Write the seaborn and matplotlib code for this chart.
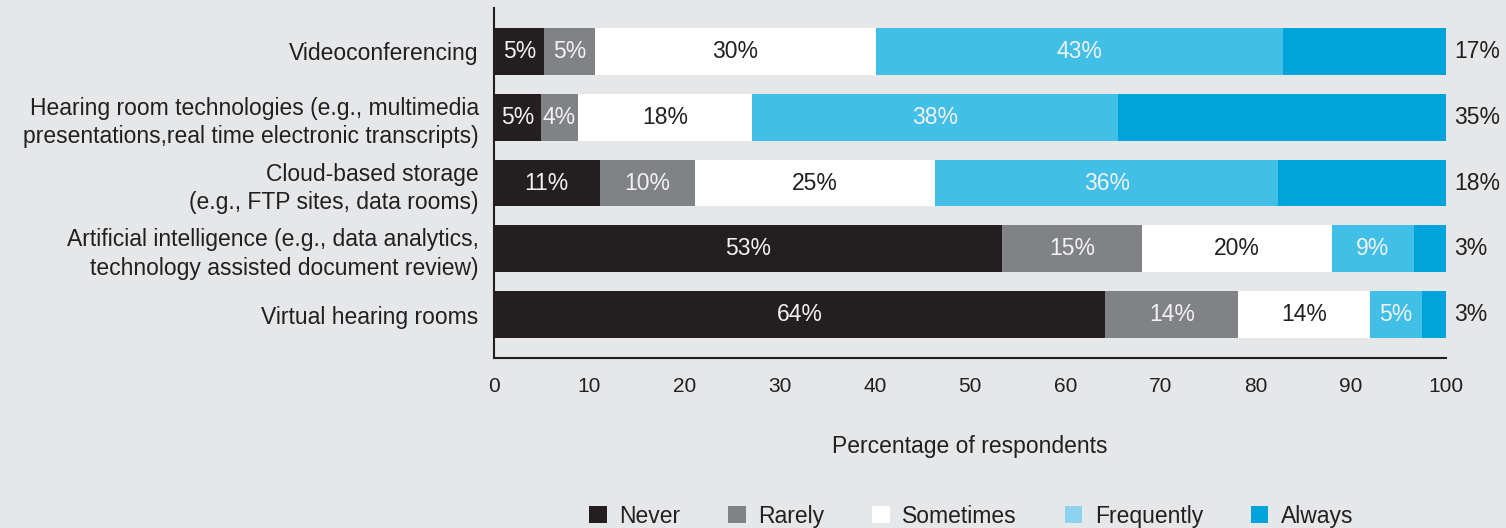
import matplotlib
matplotlib.use("Agg")
import matplotlib.pyplot as plt
import seaborn as sns
import pandas as pd
import numpy as np
from matplotlib.patches import Patch

categories = [
    "Videoconferencing",
    "Hearing room technologies (e.g., multimedia\npresentations,real time electronic transcripts)",
    "Cloud-based storage\n(e.g., FTP sites, data rooms)",
    "Artificial intelligence (e.g., data analytics,\ntechnology assisted document review)",
    "Virtual hearing rooms",
]
series = ["Never", "Rarely", "Sometimes", "Frequently", "Always"]
never = [5.3, 4.9, 11.1, 53.4, 64.2]
rarely = [5.3, 3.9, 10.0, 14.7, 14.0]
sometimes = [29.5, 18.3, 25.2, 19.9, 13.8]
frequently = [42.8, 38.4, 36.1, 8.6, 5.5]
always = [17.1, 34.5, 17.6, 3.4, 2.5]
labels_never = ["5%", "5%", "11%", "53%", "64%"]
labels_rarely = ["5%", "4%", "10%", "15%", "14%"]
labels_sometimes = ["30%", "18%", "25%", "20%", "14%"]
labels_frequently = ["43%", "38%", "36%", "9%", "5%"]
labels_always = ["17%", "35%", "18%", "3%", "3%"]
xticks = [0, 10, 20, 30, 40, 50, 60, 70, 80, 90, 100]

colors = ["#231f20", "#808285", "#ffffff", "#41bfe6", "#00a3da"]
legend_colors = ["#231f20", "#808285", "#ffffff", "#8cd3f0", "#00a3da"]
text_colors = ["#f2f2f2", "#f2f2f2", "#231f20", "#f2f2f2", "#231f20"]
bg = "#e6e7e8"
dark = "#231f20"

values = [never, rarely, sometimes, frequently, always]
label_sets = [labels_never, labels_rarely, labels_sometimes, labels_frequently, labels_always]

sns.set_theme(style="white")
plt.rcParams["font.family"] = ["Liberation Sans", "DejaVu Sans"]

fig = plt.figure(figsize=(15.06, 5.28), dpi=100, facecolor=bg)
ax = fig.add_axes([494/1506, 1-358/528, (1446-494)/1506, 350/528])
ax.set_facecolor(bg)

cum = np.cumsum(np.array(values), axis=0)
for i in range(len(series) - 1, -1, -1):
    df = pd.DataFrame({"cat": categories, "val": cum[i]})
    sns.barplot(data=df, x="val", y="cat", orient="h", color=colors[i],
                width=0.71, saturation=1, ax=ax, edgecolor="none", linewidth=0)

starts = cum - np.array(values)
for i in range(len(series)):
    for j in range(len(categories)):
        if i == len(series) - 1:
            ax.text(100.9, j, label_sets[i][j], ha="left", va="center",
                    fontsize=16.5, color=dark)
        else:
            xc = starts[i][j] + values[i][j] / 2
            ax.text(xc, j, label_sets[i][j], ha="center", va="center",
                    fontsize=16.5, color=text_colors[i])

ax.set_xlim(0, 100)
ax.set_ylim(4.66, -0.66)
ax.set_xticks(xticks)
ax.set_xticklabels([str(t) for t in xticks], fontsize=15, color=dark)
ax.tick_params(axis="x", direction="in", length=6, width=1.3, color=dark, pad=14)
ax.tick_params(axis="y", length=0, labelsize=16.5, labelcolor=dark, pad=11)
ax.set_ylabel("")
ax.set_xlabel("Percentage of respondents", fontsize=16.5, color=dark, labelpad=28)
for lbl in ax.get_yticklabels():
    lbl.set_multialignment("right")
    lbl.set_linespacing(1.3)
for s in ["top", "right"]:
    ax.spines[s].set_visible(False)
for s in ["left", "bottom"]:
    ax.spines[s].set_color(dark)
    ax.spines[s].set_linewidth(1.5)

handles = [Patch(facecolor=c, edgecolor="none") for c in legend_colors]
fig.legend(handles, series, loc="center", bbox_to_anchor=(0.645, 0.022), ncol=5,
           frameon=False, fontsize=16.5, handlelength=0.75, handleheight=0.75,
           columnspacing=2.1, handletextpad=0.55, labelcolor=dark)

fig.savefig("out.png", dpi=100, facecolor=bg)
